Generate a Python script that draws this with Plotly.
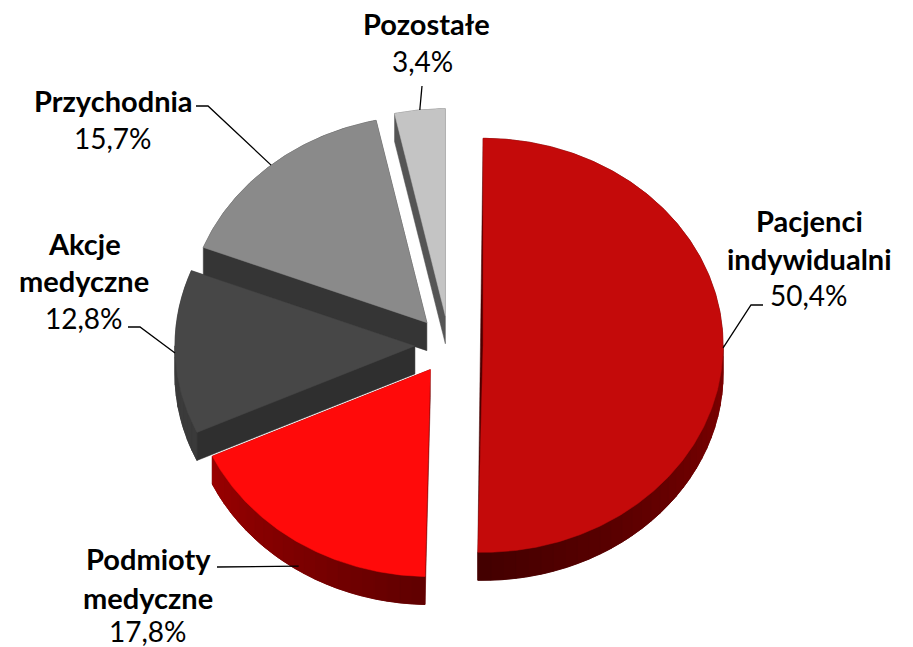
import numpy as np
import plotly.graph_objects as go

# ---------------- data ----------------
categories = ["Pacjenci indywidualni", "Podmioty medyczne", "Akcje medyczne", "Przychodnia", "Pozostałe"]
shares = [50.4, 17.8, 12.8, 15.7, 3.4]
name_lines = [["Pacjenci", "indywidualni"], ["Podmioty", "medyczne"], ["Akcje", "medyczne"], ["Przychodnia"], ["Pozostałe"]]

# ---------------- styles ----------------
top_colors = ["#C40A0A", "#FF0A0A", "#474747", "#8A8A8A", "#C4C4C4"]
wall_colors = ["#4A0000", "#6A0000", "#2F2F2F", "#353535", "#555555"]
arc_light = [(0x80, 0x00, 0x00), (0xB0, 0x00, 0x00), (0x3C, 0x3C, 0x3C), (0x40, 0x40, 0x40), (0x60, 0x60, 0x60)]
arc_dark = [(0x44, 0x00, 0x00), (0x5E, 0x00, 0x00), (0x33, 0x33, 0x33), (0x38, 0x38, 0x38), (0x55, 0x55, 0x55)]

# ---------------- geometry (layout) ----------------
W, H = 913, 647
CX, CY = 449, 345
RX, RY = 240, 207
DEPTH = 28
EXPLODE = 0.142

# label layout: (name x, name ys, value x, value y, leader start points)
label_layout = [
    (809, [220, 258], 809, 295, [(763, 305), (751, 305)]),
    (148, [558, 597], 148, 631, [(217, 567)]),
    (84, [243, 280], 84, 318, [(128, 327), (140, 327)]),
    (113, [100], 113, 138, [(196, 106), (208, 106)]),
    (426, [23], 422, 61, [(422, 86)]),
]

FONT = "Lato, 'Open Sans', sans-serif"
NAME_SIZE = 29
VALUE_SIZE = 28


def hull(points):
    pts = sorted(set((round(x, 3), round(y, 3)) for x, y in points))
    if len(pts) <= 2:
        return pts

    def cross(o, a, b):
        return (a[0] - o[0]) * (b[1] - o[1]) - (a[1] - o[1]) * (b[0] - o[0])

    lower, upper = [], []
    for p in pts:
        while len(lower) >= 2 and cross(lower[-2], lower[-1], p) <= 0:
            lower.pop()
        lower.append(p)
    for p in reversed(pts):
        while len(upper) >= 2 and cross(upper[-2], upper[-1], p) <= 0:
            upper.pop()
        upper.append(p)
    return lower[:-1] + upper[:-1]


def rgb(c):
    return "rgb(%d,%d,%d)" % tuple(int(round(v)) for v in c)


total = sum(shares)
cum = np.concatenate([[0], np.cumsum(shares)]) / total * 360.0
slices = []
for i, v in enumerate(shares):
    a0, a1 = cum[i], cum[i + 1]
    mid = np.radians((a0 + a1) / 2)
    ax = CX + EXPLODE * RX * np.sin(mid)
    ay = CY - EXPLODE * RY * np.cos(mid)
    th = np.radians(np.linspace(a0, a1, max(8, int((a1 - a0) * 1.5))))
    arc = [(ax + RX * np.sin(t), ay - RY * np.cos(t)) for t in th]
    slices.append(dict(i=i, a0=a0, a1=a1, mid=mid, ax=ax, ay=ay, arc=arc))

order = sorted(range(len(shares)), key=lambda k: -np.cos(slices[k]["mid"]))

fig = go.Figure()
for k in order:
    s = slices[k]
    top = [(s["ax"], s["ay"])] + s["arc"]
    bottom = [(x, y + DEPTH) for x, y in top]
    h = hull(top + bottom)
    hx = [p[0] for p in h] + [h[0][0]]
    hy = [p[1] for p in h] + [h[0][1]]
    fig.add_trace(go.Scatter(x=hx, y=hy, mode="lines", fill="toself", fillcolor=wall_colors[k],
                             line=dict(color=wall_colors[k], width=0.5), hoverinfo="skip", showlegend=False))
    # front outer wall with shading
    f0, f1 = max(s["a0"], 90.0), min(s["a1"], 270.0)
    if f1 > f0:
        n = max(2, int((f1 - f0) / 3))
        edges = np.linspace(f0, f1, n + 1)
        for j in range(n):
            t0, t1 = np.radians(edges[j]), np.radians(edges[j + 1])
            p0 = (s["ax"] + RX * np.sin(t0), s["ay"] - RY * np.cos(t0))
            p1 = (s["ax"] + RX * np.sin(t1), s["ay"] - RY * np.cos(t1))
            tm = abs((edges[j] + edges[j + 1]) / 2 - 180.0) / 90.0
            col = [d + (l - d) * tm for l, d in zip(arc_light[k], arc_dark[k])]
            qx = [p0[0], p1[0], p1[0], p0[0], p0[0]]
            qy = [p0[1], p1[1], p1[1] + DEPTH, p0[1] + DEPTH, p0[1]]
            fig.add_trace(go.Scatter(x=qx, y=qy, mode="lines", fill="toself", fillcolor=rgb(col),
                                     line=dict(color=rgb(col), width=0.8), hoverinfo="skip", showlegend=False))
    tx = [p[0] for p in top] + [top[0][0]]
    ty = [p[1] for p in top] + [top[0][1]]
    fig.add_trace(go.Scatter(x=tx, y=ty, mode="lines", fill="toself", fillcolor=top_colors[k],
                             line=dict(color=top_colors[k], width=0.5), hoverinfo="text",
                             text=f"{categories[k]}: {shares[k]}%", showlegend=False))

annotations = []
shapes = []
for k, s in enumerate(slices):
    nx, nys, vx, vy, lead = label_layout[k]
    for line, yy in zip(name_lines[k], nys):
        annotations.append(dict(x=nx, y=yy, xref="x", yref="y", text=f"<b>{line}</b>", showarrow=False,
                                xanchor="center", yanchor="middle",
                                font=dict(family=FONT, size=NAME_SIZE, color="#000000")))
    annotations.append(dict(x=vx, y=vy, xref="x", yref="y", text=f"{shares[k]:.1f}%".replace(".", ","),
                            showarrow=False, xanchor="center", yanchor="middle",
                            font=dict(family=FONT, size=VALUE_SIZE, color="#000000")))
    m = s["mid"]
    px = s["ax"] + RX * np.sin(m)
    py = s["ay"] - RY * np.cos(m) + DEPTH * max(0.0, -np.cos(m))
    pts = lead + [(px, py)]
    path = "M " + " L ".join(f"{x:.1f},{y:.1f}" for x, y in pts)
    shapes.append(dict(type="path", path=path, xref="x", yref="y", line=dict(color="#000000", width=1.3)))

fig.update_layout(
    width=W, height=H, autosize=False,
    margin=dict(l=0, r=0, t=0, b=0),
    paper_bgcolor="white", plot_bgcolor="white",
    xaxis=dict(range=[0, W], visible=False, fixedrange=True),
    yaxis=dict(range=[H, 0], visible=False, fixedrange=True),
    annotations=annotations, shapes=shapes, showlegend=False,
)

fig.write_html("out.html", config={"displayModeBar": False},
               post_script="document.body.style.margin='0';document.body.style.overflow='hidden';")
